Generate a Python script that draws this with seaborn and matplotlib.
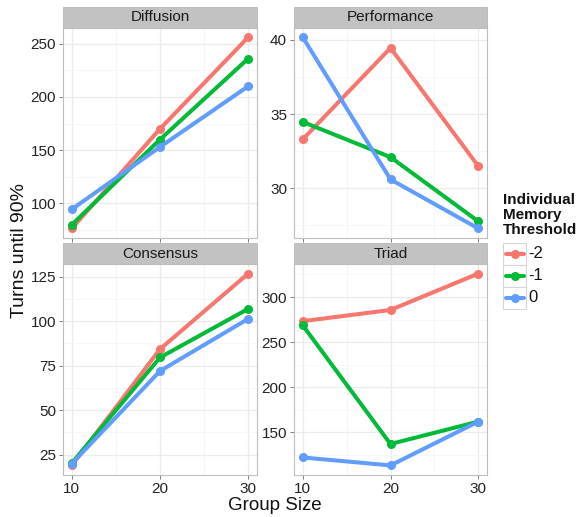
import pandas as pd
import matplotlib
matplotlib.use('Agg')
import matplotlib.pyplot as plt
import seaborn as sns
from matplotlib.patches import Rectangle
from matplotlib.lines import Line2D
from matplotlib.ticker import AutoMinorLocator, MultipleLocator

sns.set_theme(style="white")
plt.rcParams['font.family'] = ['Liberation Sans', 'DejaVu Sans']

# ---------------- data ----------------
group_size = [10, 20, 30]
thresholds = ['-2', '-1', '0']
colors = ['#F8766D', '#00BA38', '#619CFF']

diffusion = {'-2': [76.5, 170, 256], '-1': [80, 160, 236], '0': [94.5, 153, 210]}
performance = {'-2': [33.3, 39.45, 31.5], '-1': [34.47, 32.1, 27.78], '0': [40.17, 30.6, 27.3]}
consensus = {'-2': [19, 84.3, 126.7], '-1': [20.3, 79.6, 106.9], '0': [20, 72, 101.3]}
triad = {'-2': [273.3, 285.7, 326], '-1': [268.6, 137.2, 162], '0': [122.3, 113.5, 162]}

panels = ['Diffusion', 'Performance', 'Consensus', 'Triad']
panel_data = [diffusion, performance, consensus, triad]
ytick_step = [50, 5, 25, 50]

rows = []
for name, d in zip(panels, panel_data):
    for t in thresholds:
        for g, v in zip(group_size, d[t]):
            rows.append({'panel': name, 'threshold': t, 'size': g, 'turns': v})
df = pd.DataFrame(rows)

# ---------------- figure layout (pixel based) ----------------
W, H = 577, 517
fig = plt.figure(figsize=(W / 100, H / 100), dpi=100)

def px_axes(x0, y0, x1, y1):
    return fig.add_axes([x0 / W, 1 - y1 / H, (x1 - x0) / W, (y1 - y0) / H])

boxes = [(63, 27.7, 257, 238), (294, 27.7, 487, 238),
         (63, 264, 257, 475), (294, 264, 487, 475)]
strip_h = 21

for i, (name, box) in enumerate(zip(panels, boxes)):
    ax = px_axes(*box)
    sub = df[df.panel == name]
    sns.lineplot(data=sub, x='size', y='turns', hue='threshold', hue_order=thresholds,
                 palette=colors, marker='o', markersize=6.5, markeredgewidth=0,
                 linewidth=2.9, legend=False, ax=ax)
    ax.set_xlabel('')
    ax.set_ylabel('')
    ax.set_xticks(group_size)
    ax.xaxis.set_minor_locator(AutoMinorLocator(2))
    ax.yaxis.set_major_locator(MultipleLocator(ytick_step[i]))
    ax.yaxis.set_minor_locator(AutoMinorLocator(2))
    ax.grid(True, which='major', color='#ebebeb', linewidth=0.9)
    ax.grid(True, which='minor', color='#f5f5f5', linewidth=0.6)
    ax.set_axisbelow(True)
    for s in ax.spines.values():
        s.set_visible(True)
        s.set_color('#bdbdbd')
        s.set_linewidth(0.8)
    ax.tick_params(axis='both', which='major', length=3, width=0.6, color='#666666',
                   labelsize=11, labelcolor='#222222', pad=2, left=True, bottom=True)
    if i < 2:
        ax.tick_params(axis='x', labelbottom=False)
    # ggplot-style strip
    hfrac = strip_h / (box[3] - box[1])
    ax.add_patch(Rectangle((0, 1.0), 1, hfrac, transform=ax.transAxes, clip_on=False,
                           facecolor='#c2c2c2', edgecolor='#b5b5b5', linewidth=0.6))
    ax.text(0.5, 1 + hfrac / 2, name, transform=ax.transAxes, ha='center', va='center',
            fontsize=11, color='#1a1a1a')

# axis titles
fig.text(275 / W, 1 - 505 / H, 'Group Size', ha='center', va='center', fontsize=13.5, color='#111111')
fig.text(20 / W, 1 - 250 / H, 'Turns until 90%', ha='center', va='center', rotation=90,
         fontsize=14, color='#111111')

# legend (ggplot-like, each key in its own box)
fig.text(503 / W, 1 - 215 / H, 'Individual\nMemory\nThreshold', ha='left', va='center',
         fontsize=11, fontweight='bold', linespacing=1.05, color='#111111')
for k, (t, c) in enumerate(zip(thresholds, colors)):
    y0 = 243 + k * 22
    fig.add_artist(Rectangle((503 / W, 1 - (y0 + 22) / H), 23 / W, 22 / H,
                             transform=fig.transFigure, facecolor='white',
                             edgecolor='#d6d6d6', linewidth=0.8))
    yc = 1 - (y0 + 11) / H
    fig.add_artist(Line2D([505.5 / W, 523.5 / W], [yc, yc], transform=fig.transFigure,
                          color=c, linewidth=2.9))
    fig.add_artist(Line2D([514.5 / W], [yc], transform=fig.transFigure, color=c,
                          marker='o', markersize=6.5, markeredgewidth=0, linestyle=''))
    fig.text(528 / W, yc, t, ha='left', va='center', fontsize=12, color='#111111')

fig.savefig('out.png', dpi=100)
